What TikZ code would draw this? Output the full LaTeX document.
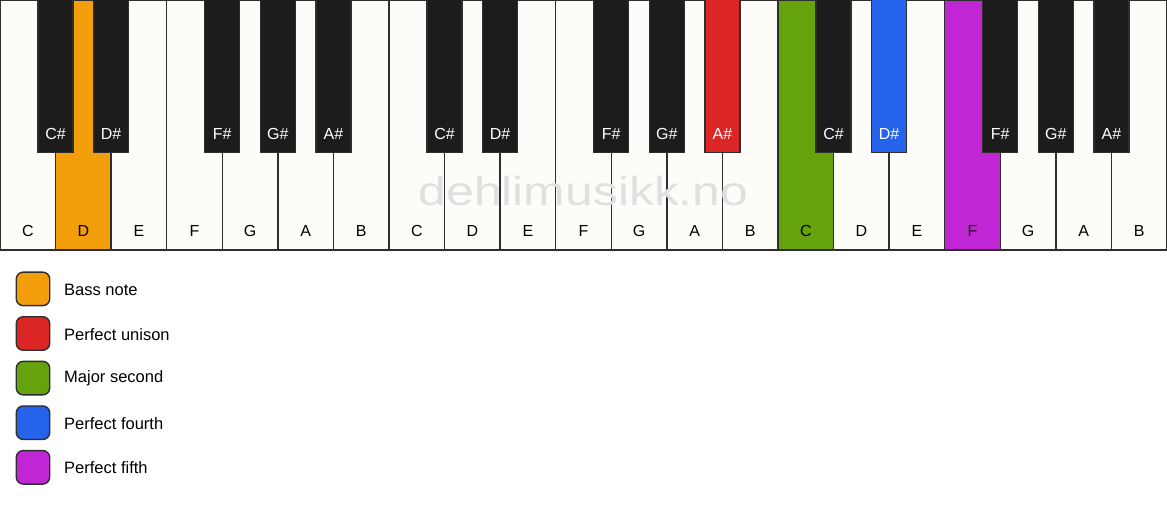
\documentclass[tikz,border=0pt]{standalone}
\usepackage{fontspec}
\setmainfont{Liberation Sans}
\definecolor{keyline}{HTML}{2E2E2E}
\definecolor{ivory}{HTML}{FDFCF9}
\definecolor{ebony}{HTML}{1C1C1C}
\definecolor{cbass}{HTML}{F39E0B}
\definecolor{cuni}{HTML}{DC2626}
\definecolor{csec}{HTML}{65A30D}
\definecolor{cfourth}{HTML}{2563EB}
\definecolor{cfifth}{HTML}{C026D3}
\definecolor{wmark}{HTML}{E0E0E0}
\begin{document}
\begin{tikzpicture}[x=1pt,y=-1pt,
  whitekey/.style={draw=keyline,line width=1.4pt,anchor=north west,inner sep=0pt,outer sep=0pt,minimum width=55.571pt,minimum height=249.5pt},
  blackkey/.style={draw=keyline,line width=1.2pt,anchor=north,inner sep=0pt,outer sep=0pt,minimum width=35pt,minimum height=153pt},
  keylabel/.style={font=\fontsize{16}{19}\selectfont,inner sep=0pt},
  legendbox/.style={draw=keyline,line width=1.4pt,rounded corners=7pt,minimum width=33.5pt,minimum height=33.5pt,inner sep=0pt},
  legendtext/.style={font=\fontsize{16.5}{19}\selectfont,anchor=west,inner sep=0pt}]
\useasboundingbox (0,0) rectangle (1167,506);
\fill[white] (0,0) rectangle (1167,506);
% white keys
\foreach \i/\n/\c/\t in {0/C/ivory/black,1/D/cbass/black,2/E/ivory/black,3/F/ivory/black,4/G/ivory/black,5/A/ivory/black,6/B/ivory/black,
  7/C/ivory/black,8/D/ivory/black,9/E/ivory/black,10/F/ivory/black,11/G/ivory/black,12/A/ivory/black,13/B/ivory/black,
  14/C/csec/black,15/D/ivory/black,16/E/ivory/black,17/F/cfifth/black!90,18/G/ivory/black,19/A/ivory/black,20/B/ivory/black}{
  \node[whitekey,fill=\c] (wk\i) at ({\i*55.571},0.3) {};
  \node[keylabel,text=\t] (wl\i) at ({(\i+0.5)*55.571},230.5) {\n};
}
% watermark
\node[font=\fontsize{40.5}{46}\selectfont,text=wmark,xscale=1.23,inner sep=0pt] (wm) at (583.5,191.5) {dehlimusikk.no};
% black keys
\foreach \b/\n/\c in {1/C\#/ebony,2/D\#/ebony,4/F\#/ebony,5/G\#/ebony,6/A\#/ebony,
  8/C\#/ebony,9/D\#/ebony,11/F\#/ebony,12/G\#/ebony,13/A\#/cuni,
  15/C\#/ebony,16/D\#/cfourth,18/F\#/ebony,19/G\#/ebony,20/A\#/ebony}{
  \node[blackkey,fill=\c] (bk\b) at ({\b*55.571},-0.5) {};
  \node[keylabel,text=white] (bl\b) at ({\b*55.571},133.5) {\n};
}
% legend
\foreach \k/\c/\t [count=\j from 0] in {lb/cbass/Bass note,lu/cuni/Perfect unison,ls/csec/Major second,lf/cfourth/Perfect fourth,lv/cfifth/Perfect fifth}{
  \node[legendbox,fill=\c] (\k) at (33,{288.9+44.6*\j}) {};
  \node[legendtext] (\k t) at (64,{289.5+44.6*\j}) {\t};
}
\end{tikzpicture}
\end{document}
